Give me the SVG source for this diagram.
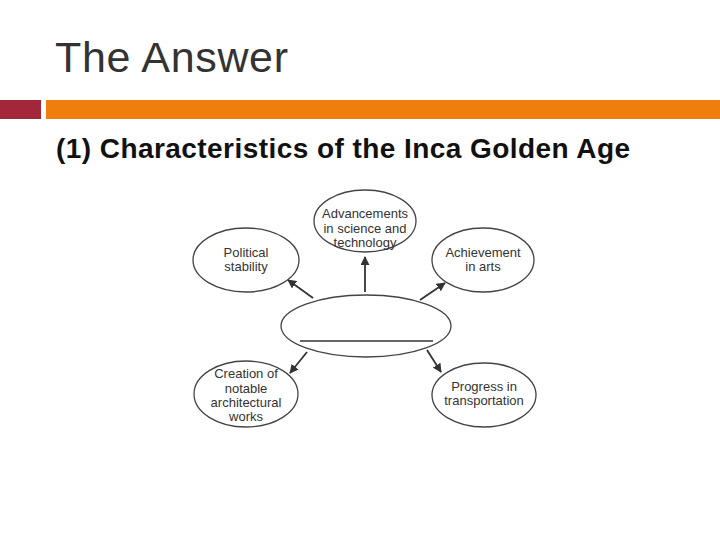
<svg xmlns="http://www.w3.org/2000/svg" width="720" height="540" viewBox="0 0 720 540">
<defs>
<style>
.node{fill:#fff;stroke:#444;stroke-width:1.3}
.lbl{font-family:"Liberation Sans",Arial,sans-serif;font-size:13px;fill:#333;text-anchor:middle}
.con{stroke:#333;stroke-width:1.8;fill:none;marker-end:url(#ah)}
</style>
<marker id="ah" viewBox="0 0 10 10" refX="9" refY="5" markerWidth="5" markerHeight="5" orient="auto" markerUnits="strokeWidth">
<path d="M0,0 L10,5 L0,10 z" fill="#333"/>
</marker>
</defs>
<rect width="720" height="540" fill="#fff"/>
<text x="55" y="72" font-family="'Liberation Sans',Arial,sans-serif" font-size="43" fill="#333" textLength="233">The Answer</text>
<rect x="0" y="100" width="41" height="19" fill="#a3263a"/>
<rect x="46" y="100" width="674" height="19" fill="#ee7f0e"/>
<text x="56" y="158" font-family="'Liberation Sans',Arial,sans-serif" font-size="28" font-weight="bold" fill="#111" textLength="574">(1) Characteristics of the Inca Golden Age</text>
<g id="connectors">
<line class="con" x1="313" y1="298" x2="288" y2="280"/>
<line class="con" x1="365" y1="292" x2="365" y2="257"/>
<line class="con" x1="420" y1="300" x2="445" y2="283"/>
<line class="con" x1="307" y1="352" x2="290" y2="373"/>
<line class="con" x1="427" y1="350" x2="441" y2="372"/>
</g>
<g id="center">
<ellipse class="node" cx="366" cy="326" rx="85" ry="31"/>
<line x1="300" y1="341" x2="433" y2="341" stroke="#333" stroke-width="1.3"/>
</g>
<g id="political">
<ellipse class="node" cx="246" cy="260" rx="53" ry="32"/>
<text class="lbl" x="246" y="257">Political</text>
<text class="lbl" x="246" y="271">stability</text>
</g>
<g id="advancements">
<ellipse class="node" cx="365" cy="221" rx="51" ry="31"/>
<text class="lbl" x="365" y="218">Advancements</text>
<text class="lbl" x="365" y="233">in science and</text>
<text class="lbl" x="365" y="247">technology</text>
</g>
<g id="achievement">
<ellipse class="node" cx="483" cy="260" rx="51" ry="32"/>
<text class="lbl" x="483" y="257">Achievement</text>
<text class="lbl" x="483" y="271">in arts</text>
</g>
<g id="creation">
<ellipse class="node" cx="246" cy="394" rx="52" ry="33"/>
<text class="lbl" x="246" y="378">Creation of</text>
<text class="lbl" x="246" y="393">notable</text>
<text class="lbl" x="246" y="407">architectural</text>
<text class="lbl" x="246" y="421">works</text>
</g>
<g id="progress">
<ellipse class="node" cx="484" cy="395" rx="52" ry="32"/>
<text class="lbl" x="484" y="391">Progress in</text>
<text class="lbl" x="484" y="405">transportation</text>
</g>
</svg>
